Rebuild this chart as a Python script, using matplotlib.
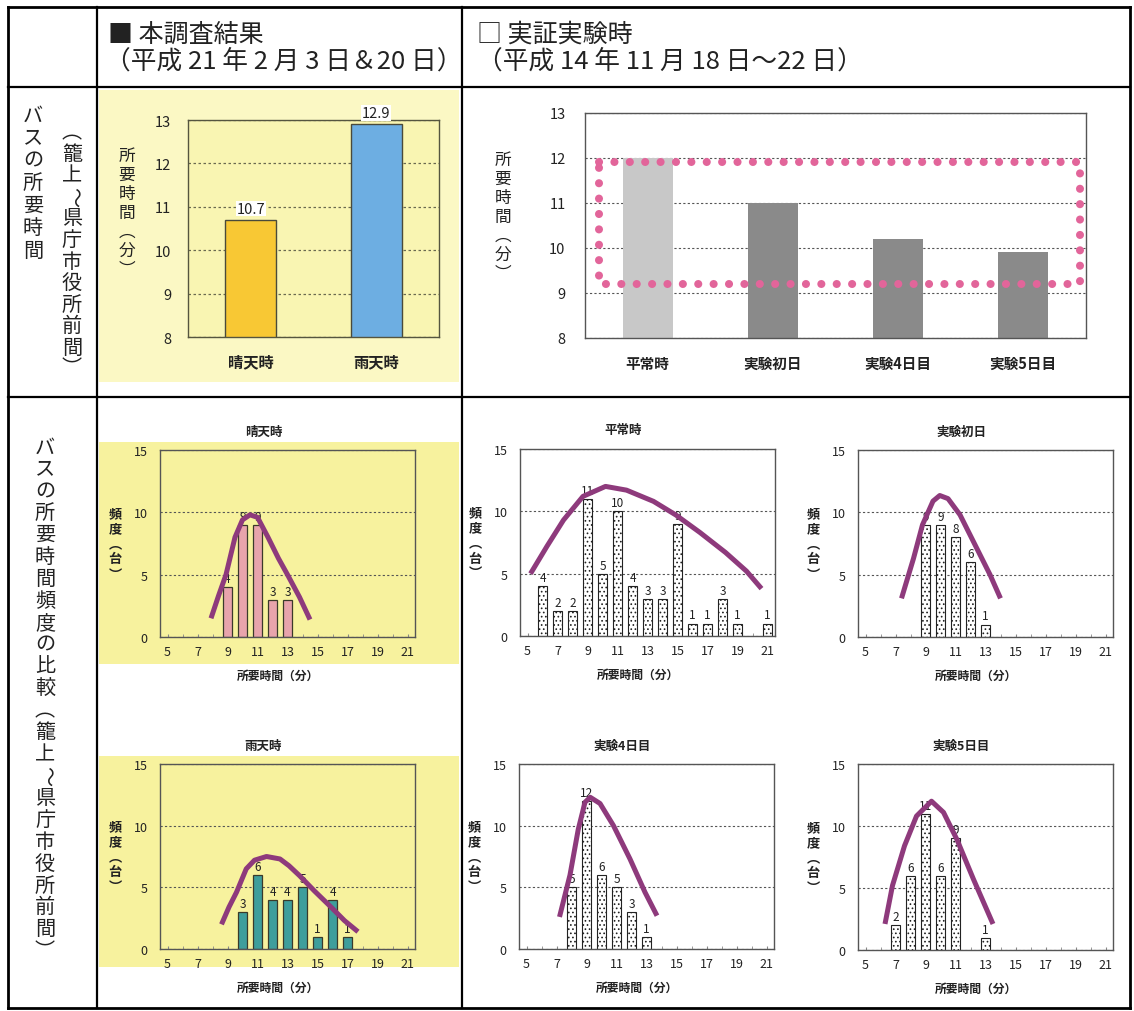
import matplotlib
matplotlib.use("Agg")
import matplotlib.pyplot as plt
from matplotlib.lines import Line2D
from matplotlib.patches import Rectangle
from matplotlib.ticker import MultipleLocator

plt.rcParams['font.family'] = ['Noto Sans CJK JP', 'DejaVu Sans']
plt.rcParams['hatch.linewidth'] = 0.7

W, H = 1134, 1012

# ---- data ----
survey_cats = ["晴天時", "雨天時"]
survey_vals = [10.7, 12.9]

trial_cats = ["平常時", "実験初日", "実験4日目", "実験5日目"]
trial_vals = [12.0, 11.0, 10.2, 9.9]

sunny_x = [9, 10, 11, 12, 13]
sunny_n = [4, 9, 9, 3, 3]
sunny_cx = [7.9, 8.4, 8.9, 9.5, 10.0, 10.5, 11.0, 11.7, 12.4, 13.0, 13.8, 14.5]
sunny_cy = [1.5, 3.3, 5.0, 8.0, 9.4, 9.8, 9.6, 8.0, 6.3, 5.0, 3.2, 1.4]

rain_x = [10, 11, 12, 13, 14, 15, 16, 17]
rain_n = [3, 6, 4, 4, 5, 1, 4, 1]
rain_cx = [8.6, 9.1, 9.6, 10.25, 10.8, 11.6, 12.5, 13.1, 13.8, 14.8, 15.9, 16.8, 17.7]
rain_cy = [2.0, 3.4, 4.6, 6.5, 7.2, 7.5, 7.3, 6.75, 5.95, 4.7, 3.4, 2.3, 1.4]

normal_x = [6, 7, 8, 9, 10, 11, 12, 13, 14, 15, 16, 17, 18, 19, 21]
normal_n = [4, 2, 2, 11, 5, 10, 4, 3, 3, 9, 1, 1, 3, 1, 1]
normal_cx = [5.2, 6.3, 7.4, 8.7, 10.2, 11.6, 13.4, 14.9, 16.5, 18.2, 19.6, 20.6]
normal_cy = [5.0, 7.2, 9.3, 11.2, 12.0, 11.7, 10.8, 9.7, 8.3, 6.7, 5.2, 3.8]

day1_x = [9, 10, 11, 12, 13]
day1_n = [9, 9, 8, 6, 1]
day1_cx = [7.4, 8.2, 8.8, 9.5, 9.95, 10.5, 11.3, 12.3, 13.3, 14.0]
day1_cy = [3.1, 6.3, 9.0, 10.9, 11.35, 11.1, 9.8, 7.4, 5.0, 3.1]

day4_x = [8, 9, 10, 11, 12, 13]
day4_n = [5, 12, 6, 5, 3, 1]
day4_cx = [7.2, 7.9, 8.45, 8.9, 9.25, 9.9, 10.8, 11.9, 12.9, 13.7]
day4_cy = [2.6, 6.0, 9.7, 11.9, 12.3, 11.8, 10.0, 7.3, 4.6, 2.7]

day5_x = [7, 8, 9, 10, 11, 13]
day5_n = [2, 6, 11, 6, 9, 1]
day5_cx = [6.3, 6.8, 7.6, 8.4, 9.4, 10.2, 11.1, 12.2, 13.5]
day5_cy = [2.1, 5.2, 8.4, 10.8, 12.0, 11.1, 8.9, 5.7, 2.1]

# highlighted range on the trial chart
box_x = [-0.39, 3.45]
box_y = [9.2, 11.91]

YELLOW_TOP = '#FBF8C4'
YELLOW_HIST = '#F7F29E'
CURVE = '#8E3A7C'
INK = '#222222'

# vertical-writing forms
VERT = {'（': '︵', '）': '︶'}


def fx(x):
    return x / W


def fy(y):
    return 1 - y / H


def axes_px(fig, l, t, r, b):
    return fig.add_axes([fx(l), fy(b), (r - l) / W, (b - t) / H])


def vtext(fig, x, y0, step, s, size, weight='normal'):
    y = y0
    for ch in s:
        rot = 0
        dx = 0
        if ch in VERT:
            ch = VERT[ch]
        elif ch == '～':
            rot = -90
            dx = 2
        fig.text(fx(x + dx), fy(y), ch, size=size, weight=weight, color=INK,
                 ha='center', va='center', rotation=rot)
        y += step


def hline(fig, x0, x1, y, lw=1.6):
    fig.add_artist(Line2D([fx(x0), fx(x1)], [fy(y), fy(y)],
                          transform=fig.transFigure, color='k', lw=lw))


def vline(fig, x, y0, y1, lw=1.6):
    fig.add_artist(Line2D([fx(x), fx(x)], [fy(y0), fy(y1)],
                          transform=fig.transFigure, color='k', lw=lw))


def bg(fig, x0, y0, x1, y1, color):
    fig.patches.append(Rectangle((fx(x0), fy(y1)), (x1 - x0) / W, (y1 - y0) / H,
                                 transform=fig.transFigure, fc=color, ec='none', zorder=-5))


fig = plt.figure(figsize=(W / 100, H / 100), dpi=100)
fig.patch.set_facecolor('white')

# yellow backgrounds
bg(fig, 99, 91, 459, 383, YELLOW_TOP)
bg(fig, 99, 443, 459, 665, YELLOW_HIST)
bg(fig, 99, 757, 459, 968, YELLOW_HIST)

# ---- table frame ----
hline(fig, 8, 1130, 8, 2.0)
hline(fig, 8, 1130, 88)
hline(fig, 8, 1130, 398)
hline(fig, 8, 1130, 1009, 2.0)
vline(fig, 8, 8, 1009, 2.0)
vline(fig, 97, 8, 1009)
vline(fig, 462, 8, 1009)
vline(fig, 1130, 8, 1009, 2.0)

# header
fig.text(fx(108), fy(35), "■ 本調査結果", size=18, color=INK, va='center')
fig.text(fx(105), fy(62), "（平成 21 年 2 月 3 日＆20 日）", size=18.5, color=INK, va='center')
fig.text(fx(477), fy(35), "□ 実証実験時", size=18, color=INK, va='center')
fig.text(fx(477), fy(62), "（平成 14 年 11 月 18 日～22 日）", size=18.5, color=INK, va='center')

# left column
vtext(fig, 33, 116, 22.5, "バスの所要時間", 14.5)
vtext(fig, 72, 133, 21.5, "（籠上～県庁市役所前間）", 14.5)
vtext(fig, 45, 448, 21.9, "バスの所要時間頻度の比較（籠上～県庁市役所前間）", 14.5)

# ---- top left: survey result ----
ax = axes_px(fig, 188, 121, 439, 338)
ax.set_facecolor('#F9F5B2')
ax.bar(range(len(survey_cats)), survey_vals, width=0.41,
       color=['#F8C834', '#6DAEE2'], edgecolor='#4A4A3A', lw=1)
ax.set_xlim(-0.5, 1.5)
ax.set_ylim(8, 13)
ax.set_yticks(range(8, 14))
ax.set_xticks(range(len(survey_cats)))
ax.set_xticklabels(survey_cats, size=11, weight='bold', color=INK)
ax.tick_params(axis='y', length=0, pad=12, labelsize=10.5, labelcolor=INK)
ax.tick_params(axis='x', length=0, pad=12)
ax.yaxis.grid(True, linestyle=(0, (2, 2)), color='#6A6A50', lw=0.9)
ax.set_axisbelow(True)
for s in ax.spines.values():
    s.set_color('#55553F')
    s.set_linewidth(1)
for i, v in enumerate(survey_vals):
    ax.annotate(f"{v}", (i, v), xytext=(0, 3), textcoords='offset points',
                ha='center', va='bottom', size=10.5, color=INK, annotation_clip=False,
                bbox=dict(fc='white', ec='none', pad=0.5))
vtext(fig, 127, 156, 19, "所要時間（分）", 12)

# ---- top right: trial ----
ax = axes_px(fig, 585, 114, 1086, 339)
ax.bar(range(len(trial_cats)), trial_vals, width=0.4,
       color=['#C8C8C8', '#8A8A8A', '#8A8A8A', '#8A8A8A'], edgecolor='none')
ax.set_xlim(-0.5, 3.5)
ax.set_ylim(8, 13)
ax.set_yticks(range(8, 14))
ax.set_xticks(range(len(trial_cats)))
ax.set_xticklabels(trial_cats, size=10.5, weight='bold', color=INK)
ax.tick_params(axis='y', length=0, pad=14, labelsize=10.5, labelcolor=INK)
ax.tick_params(axis='x', length=0, pad=12)
ax.yaxis.grid(True, linestyle=(0, (2, 2)), color='#555555', lw=0.8)
ax.set_axisbelow(True)
for s in ax.spines.values():
    s.set_color('#555555')
    s.set_linewidth(1)
ax.plot([box_x[0], box_x[1], box_x[1], box_x[0], box_x[0]],
        [box_y[1], box_y[1], box_y[0], box_y[0], box_y[1]],
        color='#E2659A', lw=5.8, linestyle=(0, (0.01, 1.9)),
        dash_capstyle='round', clip_on=False, zorder=5)
vtext(fig, 503, 160, 19, "所要時間（分）", 12)

# ---- histograms ----
panels = [
    ("晴天時", sunny_x, sunny_n, sunny_cx, sunny_cy, 'pink', 160, 451, 638),
    ("雨天時", rain_x, rain_n, rain_cx, rain_cy, 'teal', 160, 765, 950),
    ("平常時", normal_x, normal_n, normal_cx, normal_cy, 'dots', 520, 450, 637),
    ("実験初日", day1_x, day1_n, day1_cx, day1_cy, 'dots', 858, 451, 638),
    ("実験4日目", day4_x, day4_n, day4_cx, day4_cy, 'dots', 519, 765, 950),
    ("実験5日目", day5_x, day5_n, day5_cx, day5_cy, 'dots', 858, 765, 951),
]

for title, bx, bn, cx, cy, style, left, top, bottom in panels:
    right = left + 255
    ax = axes_px(fig, left, top, right, bottom)
    ax.set_facecolor('none')
    if style == 'dots':
        bars = ax.bar(bx, bn, width=0.55, color='white', edgecolor='#222222',
                      hatch='....', lw=0.8)
    else:
        c = '#E8A4AC' if style == 'pink' else '#3E9E9C'
        bars = ax.bar(bx, bn, width=0.55, color=c, edgecolor='#3A3A2A', lw=0.9)
    ax.bar_label(bars, padding=1.5, size=8.5, color=INK)
    ax.plot(cx, cy, color=CURVE, lw=3.6, solid_capstyle='butt',
            solid_joinstyle='round', zorder=4)
    ax.set_xlim(4.5, 21.5)
    ax.set_ylim(0, 15)
    ax.set_xticks(range(5, 22, 2))
    ax.xaxis.set_minor_locator(MultipleLocator(1))
    ax.set_yticks([0, 5, 10, 15])
    ax.tick_params(axis='x', which='both', direction='in', length=2,
                   color='#888888', labelsize=9, labelcolor=INK, pad=6)
    ax.tick_params(axis='y', length=0, labelsize=9, labelcolor=INK, pad=9)
    ax.yaxis.grid(True, linestyle=(0, (2, 2)), color='#555555', lw=0.8)
    ax.set_axisbelow(True)
    for s in ax.spines.values():
        s.set_color('#555555')
        s.set_linewidth(1)
    cxp = (left + right) / 2
    fig.text(fx(cxp - 24), fy(top - 19), title, size=9, weight='bold',
             color=INK, ha='center', va='center')
    fig.text(fx(cxp - 10), fy(bottom + 38), "所要時間（分）", size=8.5,
             weight='bold', color=INK, ha='center', va='center')
    vtext(fig, left - 45, (top + bottom) / 2 - 30, 15, "頻度（台）", 9.5, 'bold')

fig.savefig("out.png", dpi=100)
